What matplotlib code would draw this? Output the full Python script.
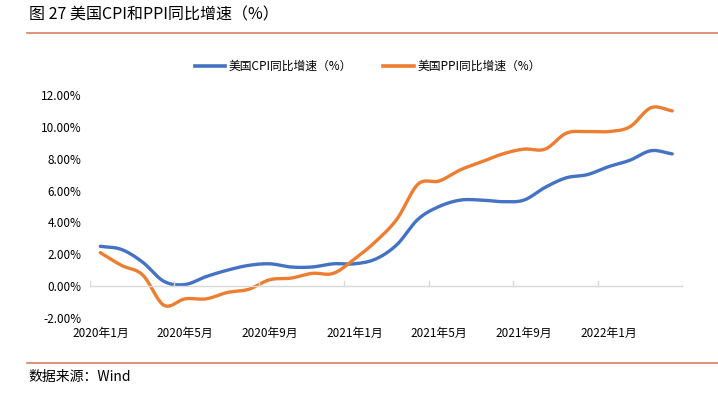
import numpy as np
import matplotlib.pyplot as plt
from matplotlib.lines import Line2D

plt.rcParams['font.family'] = ['Noto Sans CJK SC', 'DejaVu Sans']

months = ['2020年1月', '2020年2月', '2020年3月', '2020年4月', '2020年5月', '2020年6月',
          '2020年7月', '2020年8月', '2020年9月', '2020年10月', '2020年11月', '2020年12月',
          '2021年1月', '2021年2月', '2021年3月', '2021年4月', '2021年5月', '2021年6月',
          '2021年7月', '2021年8月', '2021年9月', '2021年10月', '2021年11月', '2021年12月',
          '2022年1月', '2022年2月', '2022年3月', '2022年4月']
cpi = [2.5, 2.3, 1.5, 0.3, 0.1, 0.6, 1.0, 1.3, 1.4, 1.2, 1.2, 1.4,
       1.4, 1.7, 2.6, 4.2, 5.0, 5.4, 5.4, 5.3, 5.4, 6.2, 6.8, 7.0,
       7.5, 7.9, 8.5, 8.3]
ppi = [2.1, 1.3, 0.7, -1.2, -0.8, -0.8, -0.4, -0.2, 0.4, 0.5, 0.8, 0.8,
       1.7, 2.8, 4.2, 6.4, 6.6, 7.3, 7.8, 8.3, 8.6, 8.6, 9.6, 9.7,
       9.7, 10.0, 11.2, 11.0]
yticks = [-2, 0, 2, 4, 6, 8, 10, 12]


def smooth(x, y, n=20):
    # catmull-rom curve through the points, like excel's smoothed line
    x = np.asarray(x, float)
    y = np.asarray(y, float)
    px = np.concatenate([[2 * x[0] - x[1]], x, [2 * x[-1] - x[-2]]])
    py = np.concatenate([[2 * y[0] - y[1]], y, [2 * y[-1] - y[-2]]])
    t = np.linspace(0, 1, n, endpoint=False)
    xs, ys = [], []
    for i in range(1, len(px) - 2):
        for p, out in ((px, xs), (py, ys)):
            p0, p1, p2, p3 = p[i - 1], p[i], p[i + 1], p[i + 2]
            out.extend(0.5 * (2 * p1 + (-p0 + p2) * t
                              + (2 * p0 - 5 * p1 + 4 * p2 - p3) * t ** 2
                              + (-p0 + 3 * p1 - 3 * p2 + p3) * t ** 3))
    xs.append(x[-1])
    ys.append(y[-1])
    return np.array(xs), np.array(ys)


blue = '#4472C4'
orange = '#ED7D31'

fig = plt.figure(figsize=(7.18, 3.94), dpi=100)
ax = fig.add_axes([0.125, 0.193, 0.826, 0.566])

x = np.arange(len(months))
sx, sy = smooth(x, cpi)
ax.plot(sx, sy, color=blue, lw=2.4, solid_capstyle='round')
sx, sy = smooth(x, ppi)
ax.plot(sx, sy, color=orange, lw=2.4, solid_capstyle='round')

ax.set_xlim(-0.5, len(months) - 0.5)
ax.set_ylim(-2, 12)
ax.set_yticks(yticks)
ax.set_yticklabels(['%.2f%%' % v for v in yticks], fontsize=8.5)
ax.tick_params(axis='y', length=0, pad=6)

for s in ax.spines.values():
    s.set_visible(False)
ax.axhline(0, color='#D9D9D9', lw=1)
ax.set_xticks([])
for i in range(0, len(months) + 1, 4):
    ax.plot([i - 0.5, i - 0.5], [0, 0.3], color='#D9D9D9', lw=1)
for i in range(0, len(months), 4):
    ax.text(i, -2.95, months[i], ha='center', va='center', fontsize=8.5)

handles = [Line2D([], [], color=blue, lw=2.6), Line2D([], [], color=orange, lw=2.6)]
fig.legend(handles, ['美国CPI同比增速（%）', '美国PPI同比增速（%）'],
           loc='center', bbox_to_anchor=(0.512, 0.832), ncol=2, frameon=False,
           fontsize=8.5, handlelength=2.6, handletextpad=0.3, columnspacing=2.6)

fig.text(0.04, 0.962, '图 27 美国CPI和PPI同比增速（%）', fontsize=11.5, va='center')
fig.add_artist(Line2D([0.037, 1.0], [0.917, 0.917], color='#D9805F', lw=1.2))
fig.add_artist(Line2D([0.037, 1.0], [0.079, 0.079], color='#D9805F', lw=1.2))
fig.text(0.04, 0.043, '数据来源：Wind', fontsize=10, va='center')

fig.savefig('out.png', dpi=100)
